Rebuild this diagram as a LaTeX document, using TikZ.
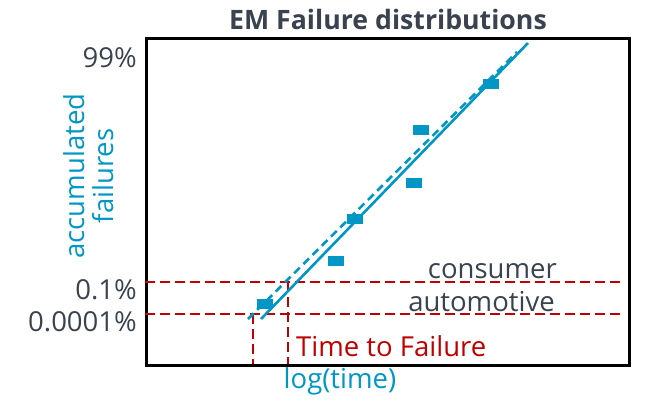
\documentclass[tikz,border=0pt]{standalone}
\usepackage{fontspec}
\setmainfont{Open Sans}
\definecolor{txtgray}{HTML}{3A4250}
\definecolor{emblue}{HTML}{0096C6}
\definecolor{emred}{HTML}{C00000}
\begin{document}
\begin{tikzpicture}[x=1pt,y=-1pt,
  lbl/.style={inner sep=0pt,font=\fontsize{27.5}{29}\selectfont},
  pt/.style={fill=emblue,draw=none,minimum width=16pt,minimum height=10pt,inner sep=0pt},
  fitline/.style={emblue,line width=2.6pt},
  limit/.style={emred,line width=2.6pt,dash pattern=on 10pt off 5pt}]
\useasboundingbox (0,0) rectangle (654,400);
% frame
\node[draw=black,line width=2.8pt,minimum width=483pt,minimum height=327pt,inner sep=0pt,anchor=north west] (frame) at (145,37) {};
% title
\node[lbl,font=\fontsize{26.7}{28}\selectfont\bfseries,text=txtgray] (title) at (388,19) {EM Failure distributions};
% y labels
\node[lbl,text=txtgray,anchor=east] (p99) at (137,58) {99\%};
\node[lbl,text=txtgray,anchor=east] (p01) at (137,290) {0.1\%};
\node[lbl,text=txtgray,anchor=east] (p0001) at (137,322) {0.0001\%};
\node[lbl,text=emblue,rotate=90,align=center] (ylab) at (89,176) {accumulated\\failures};
% limits
\coordinate (c1) at (145,282);
\coordinate (c2) at (622,282);
\coordinate (a1) at (145,314);
\coordinate (a2) at (622,314);
\coordinate (v1t) at (253,314);
\coordinate (v1b) at (253,364);
\coordinate (v2t) at (288,282);
\coordinate (v2b) at (288,364);
\draw[limit] (c1) -- (c2);
\draw[limit] (a1) -- (a2);
\draw[limit] (v1t) -- (v1b);
\draw[limit] (v2t) -- (v2b);
\node[lbl,text=txtgray,anchor=east] (cons) at (557,271) {consumer};
\node[lbl,text=txtgray,anchor=east] (auto) at (555,302) {automotive};
\node[lbl,text=emred,anchor=west] (ttf) at (296,346) {Time to Failure};
\node[lbl,text=emblue] (xlab) at (340,381) {log(time)};
% fit lines
\coordinate (s1) at (261,319);
\coordinate (s2) at (528,43);
\coordinate (d1) at (248,319);
\coordinate (d2) at (517,52);
\draw[fitline] (s1) -- (s2);
\draw[fitline,dash pattern=on 8pt off 5pt] (d1) -- (d2);
% data points
\node[pt] (m1) at (265,304) {};
\node[pt] (m2) at (336,261) {};
\node[pt] (m3) at (355,219) {};
\node[pt] (m4) at (414,183) {};
\node[pt] (m5) at (421,130) {};
\node[pt] (m6) at (491,84) {};
\end{tikzpicture}
\end{document}
